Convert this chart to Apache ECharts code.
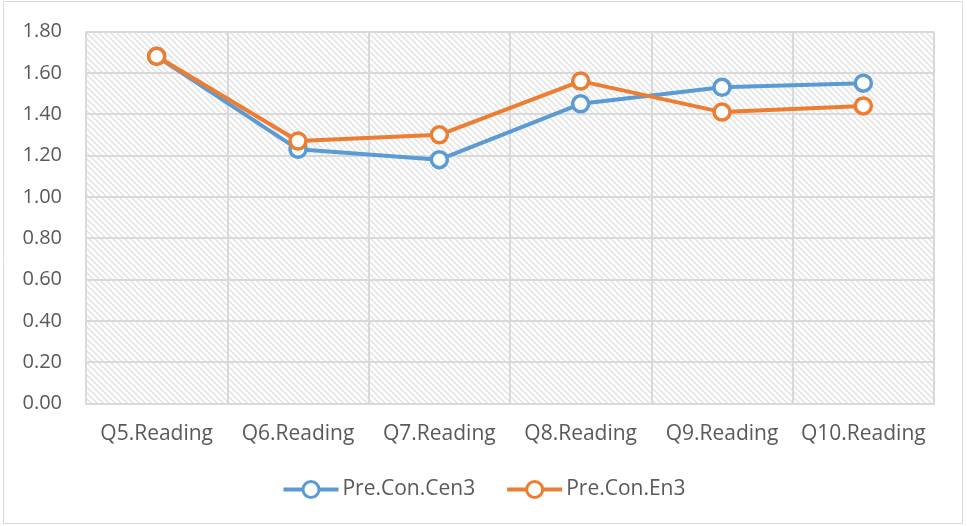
<!DOCTYPE html>
<html>
<head>
<meta charset="utf-8">
<script src="https://cdn.jsdelivr.net/npm/echarts@6/dist/echarts.min.js"></script>
<style>
  html, body { margin: 0; padding: 0; background: #ffffff; }
  #chart { width: 967px; height: 526px; }
</style>
</head>
<body>
<div id="chart"></div>
<script>
// Categories and series values
const categories = ['Q5.Reading', 'Q6.Reading', 'Q7.Reading', 'Q8.Reading', 'Q9.Reading', 'Q10.Reading'];
const cenValues = [1.68, 1.23, 1.18, 1.45, 1.53, 1.55];
const enValues = [1.68, 1.27, 1.30, 1.56, 1.41, 1.44];
const seriesNames = ['Pre.Con.Cen3', 'Pre.Con.En3'];

// Diagonal hatch pattern for the plot background
function makeHatch() {
  const c = document.createElement('canvas');
  const n = 6;
  c.width = n; c.height = n;
  const ctx = c.getContext('2d');
  ctx.fillStyle = '#ffffff';
  ctx.fillRect(0, 0, n, n);
  ctx.strokeStyle = '#e2e2e2';
  ctx.lineWidth = 1.5;
  ctx.beginPath();
  ctx.moveTo(-1, -1); ctx.lineTo(n + 1, n + 1);
  ctx.moveTo(-1 - n, -1); ctx.lineTo(1, n + 1);
  ctx.moveTo(n - 1, -1); ctx.lineTo(2 * n + 1, n + 1);
  ctx.stroke();
  return c;
}

const chart = echarts.init(document.getElementById('chart'), null, { renderer: 'canvas' });
const font = '"Open Sans", "Liberation Sans", sans-serif';
const textColor = '#595959';

const option = {
  animation: false,
  backgroundColor: '#ffffff',
  graphic: [{
    type: 'rect',
    shape: { x: 3.5, y: 1.5, width: 959, height: 522 },
    style: { fill: 'none', stroke: '#d9d9d9', lineWidth: 1 },
    silent: true
  }],
  grid: {
    left: 86, right: 33, top: 31.5, bottom: 122.5,
    show: true,
    backgroundColor: { image: makeHatch(), repeat: 'repeat' },
    borderWidth: 0
  },
  legend: {
    top: 474,
    left: 'center',
    itemWidth: 55,
    itemHeight: 20,
    itemGap: 30,
    lineStyle: { width: 4 },
    itemStyle: { borderWidth: 3 },
    textStyle: { fontFamily: font, fontSize: 21, color: textColor, padding: [0, 0, 0, -1] },
    data: seriesNames
  },
  xAxis: {
    type: 'category',
    data: categories,
    boundaryGap: true,
    axisLine: { show: true, lineStyle: { color: '#d9d9d9', width: 2 } },
    axisTick: { show: false },
    axisLabel: { fontFamily: font, fontSize: 21, color: textColor, margin: 20, interval: 0, hideOverlap: false },
    splitLine: { show: true, interval: 0, lineStyle: { color: '#d9d9d9', width: 2 } }
  },
  yAxis: {
    type: 'value',
    min: 0, max: 1.8, interval: 0.2,
    axisLine: { show: false },
    axisTick: { show: false },
    axisLabel: {
      fontFamily: font, fontSize: 20, color: textColor, margin: 24,
      formatter: v => v.toFixed(2)
    },
    splitLine: { show: true, lineStyle: { color: '#d9d9d9', width: 2 } }
  },
  series: [
    {
      name: seriesNames[0],
      type: 'line',
      data: cenValues,
      color: '#5b9bd5',
      lineStyle: { width: 4, color: '#5b9bd5' },
      symbol: 'circle',
      symbolSize: 16,
      itemStyle: { color: '#ffffff', borderColor: '#5b9bd5', borderWidth: 3.5 },
      z: 2
    },
    {
      name: seriesNames[1],
      type: 'line',
      data: enValues,
      color: '#ed7d31',
      lineStyle: { width: 4, color: '#ed7d31' },
      symbol: 'circle',
      symbolSize: 16,
      itemStyle: { color: '#ffffff', borderColor: '#ed7d31', borderWidth: 3.5 },
      z: 3
    }
  ]
};
chart.setOption(option);
</script>
</body>
</html>
